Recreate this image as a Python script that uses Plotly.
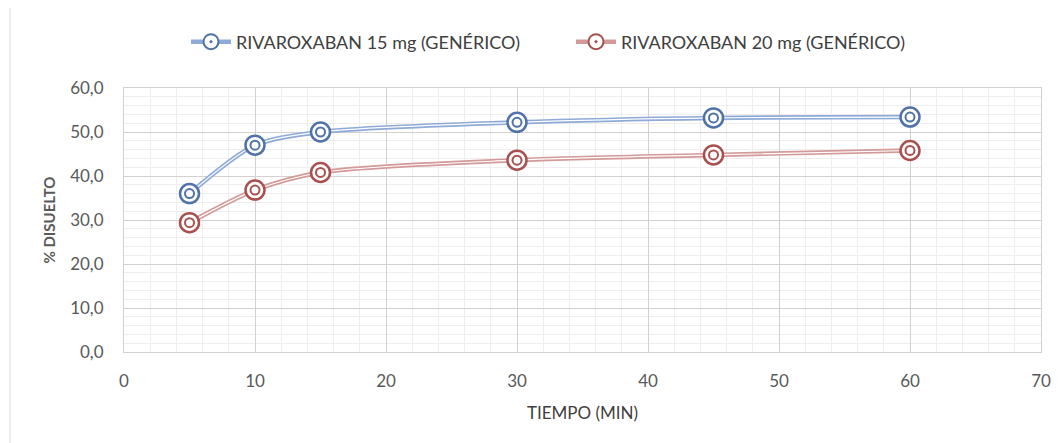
import plotly.graph_objects as go

tiempo = [5, 10, 15, 30, 45, 60]
riva15 = [36.0, 47.0, 50.0, 52.2, 53.2, 53.4]
riva20 = [29.4, 36.8, 40.8, 43.6, 44.8, 45.8]
name15 = "RIVAROXABAN 15 mg (GENÉRICO)"
name20 = "RIVAROXABAN 20 mg (GENÉRICO)"

series = [
    (name15, riva15, "#8eaad8", "#4f73a8", "legend"),
    (name20, riva20, "#d39a99", "#a9504f", "legend2"),
]

fig = go.Figure()
for name, ys, light, dark, leg in series:
    fig.add_trace(go.Scatter(
        x=tiempo, y=ys, name=name, mode="lines+markers", legend=leg,
        line=dict(color=light, width=4.5, shape="spline", smoothing=0.8),
        marker=dict(symbol="circle-dot", size=15, color="white",
                    line=dict(color=dark, width=2)),
    ))
    fig.add_trace(go.Scatter(
        x=tiempo, y=ys, mode="lines", showlegend=False, hoverinfo="skip",
        line=dict(color="white", width=1.2, shape="spline", smoothing=0.8),
    ))
    fig.add_trace(go.Scatter(
        x=tiempo, y=ys, mode="markers", showlegend=False, hoverinfo="skip",
        marker=dict(symbol="circle", size=19, color="white",
                    line=dict(color=dark, width=2.5)),
    ))
    fig.add_trace(go.Scatter(
        x=tiempo, y=ys, mode="markers", showlegend=False, hoverinfo="skip",
        marker=dict(symbol="circle-open", size=9, color=dark,
                    line=dict(color=dark, width=2)),
    ))

# page body has an 8px default margin: layout below is in figure coordinates
font = "Lato, 'Open Sans', sans-serif"
legfont = dict(size=18, color="#404040")
L, T, R, B = 116, 80, 1033, 344
W, H = 1061, 443
pw, ph = R - L, B - T
fig.update_layout(
    width=W, height=H,
    paper_bgcolor="white", plot_bgcolor="white",
    margin=dict(l=L, r=W - R, t=T, b=H - B, autoexpand=False),
    separators=",.",
    font=dict(family=font, size=17, color="#595959"),
    showlegend=True,
    legend=dict(orientation="h", x=(178 - L) / pw, xanchor="left", y=1 - 34 / H,
                yanchor="middle", yref="container", font=legfont, itemwidth=40,
                bgcolor="rgba(0,0,0,0)"),
    legend2=dict(orientation="h", x=(563 - L) / pw, xanchor="left", y=1 - 34 / H,
                 yanchor="middle", yref="container", font=legfont, itemwidth=40,
                 bgcolor="rgba(0,0,0,0)"),
    xaxis=dict(range=[0, 70], dtick=10, showgrid=True, gridcolor="#d4d0d0",
               gridwidth=1, zeroline=False, showline=True, linecolor="#d4d0d0",
               mirror=True, ticks="", tickfont=dict(size=17, color="#595959"),
               ticklabelstandoff=14, automargin=False,
               minor=dict(dtick=2, showgrid=True, gridcolor="#efeded", gridwidth=1),
               title=dict(text="TIEMPO (MIN)", font=dict(size=17, color="#404040"), standoff=16)),
    yaxis=dict(range=[0, 60], dtick=10, tickformat=".1f", showgrid=True,
               gridcolor="#d4d0d0", gridwidth=1, zeroline=False, showline=True,
               linecolor="#d4d0d0", mirror=True, ticks="",
               tickfont=dict(size=17, color="#595959"), ticklabelstandoff=16,
               automargin=False,
               minor=dict(dtick=2, showgrid=True, gridcolor="#efeded", gridwidth=1),
               title=dict(text="<b>% DISUELTO</b>", font=dict(size=15, color="#595959"), standoff=10)),
)
fig.add_shape(type="line", xref="paper", yref="paper",
              x0=(2 - L) / pw, x1=(2 - L) / pw, y0=-(H - B) / ph, y1=1 + T / ph,
              line=dict(color="#d9d9d9", width=1))
fig.write_html("out.html")
